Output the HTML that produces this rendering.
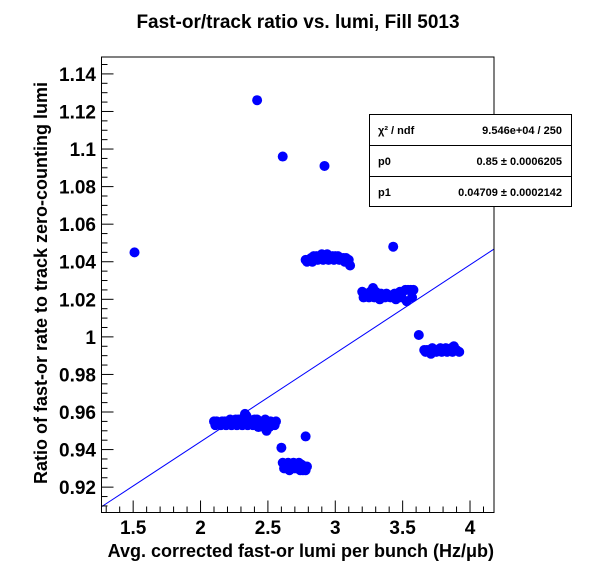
<!DOCTYPE html>
<html><head><meta charset="utf-8"><style>
body{margin:0;background:#fff}
svg{display:block;font-family:"Liberation Sans",Arial,sans-serif}
</style></head><body>
<svg id="c" width="596" height="572">
<rect width="596" height="572" fill="#fff"/>
<text x="298" y="28" text-anchor="middle" font-size="19" font-weight="bold">Fast-or/track ratio vs. lumi, Fill 5013</text>
<g id="plot"></g>
<g id="axes"></g>
<text x="0" y="0" transform="translate(47,283) rotate(-90)" text-anchor="middle" font-size="18" font-weight="bold">Ratio of fast-or rate to track zero-counting lumi</text>
<text x="494" y="557" text-anchor="end" font-size="18" font-weight="bold">Avg. corrected fast-or lumi per bunch (Hz/μb)</text>
<g>
<rect x="369.5" y="114.5" width="202" height="92" fill="#fff" stroke="#000"/>
<line x1="369.5" y1="145.5" x2="571.5" y2="145.5" stroke="#000"/>
<line x1="369.5" y1="176.5" x2="571.5" y2="176.5" stroke="#000"/>
<text x="378" y="134" font-size="11" font-weight="bold">χ² / ndf</text>
<text x="562" y="134" font-size="11" font-weight="bold" text-anchor="end">9.546e+04 / 250</text>
<text x="378" y="165" font-size="11" font-weight="bold">p0</text>
<text x="562" y="165" font-size="11" font-weight="bold" text-anchor="end">0.85  ± 0.0006205</text>
<text x="378" y="196" font-size="11" font-weight="bold">p1</text>
<text x="562" y="196" font-size="11" font-weight="bold" text-anchor="end">0.04709  ± 0.0002142</text>
</g>
</svg>
<script>
const xTicks=[1.5,2,2.5,3,3.5,4];
const xTickLabels=["1.5","2","2.5","3","3.5","4"];
const yTicks=[0.92,0.94,0.96,0.98,1,1.02,1.04,1.06,1.08,1.1,1.12,1.14];
const yTickLabels=["0.92","0.94","0.96","0.98","1","1.02","1.04","1.06","1.08","1.1","1.12","1.14"];
const fitP0=0.85, fitP1=0.04709;
const ptX=[1.51,2.42,2.61,2.92,3.43,
2.10,2.12,2.14,2.16,2.18,2.20,2.22,2.24,2.26,2.28,2.30,2.32,2.34,2.36,2.38,2.40,2.42,2.44,2.46,2.48,2.50,2.52,2.54,2.56,
2.11,2.15,2.19,2.23,2.27,2.31,2.35,2.39,2.43,2.47,2.51,2.55,2.33,2.49,
2.60,2.78,2.61,2.63,2.65,2.67,2.69,2.71,2.73,2.75,2.77,2.79,2.62,2.64,2.66,2.68,2.70,2.72,2.74,2.76,2.78,
2.78,2.80,2.82,2.84,2.86,2.88,2.90,2.92,2.94,2.96,2.98,3.00,3.02,3.04,3.06,3.08,3.10,2.79,2.83,2.87,2.91,2.95,2.99,3.03,3.07,3.11,
3.20,3.22,3.24,3.26,3.28,3.30,3.32,3.34,3.36,3.38,3.40,3.42,3.44,3.46,3.48,3.50,3.52,3.54,3.56,3.58,3.21,3.25,3.29,3.33,3.37,3.41,3.45,3.49,3.53,3.57,
3.62,3.66,3.68,3.70,3.72,3.74,3.76,3.78,3.80,3.82,3.84,3.86,3.88,3.90,3.92,3.67,3.71,3.75,3.79,3.83,3.87];
const ptY=[1.045,1.126,1.096,1.091,1.048,
0.955,0.955,0.954,0.955,0.955,0.955,0.956,0.955,0.956,0.956,0.956,0.957,0.958,0.956,0.955,0.956,0.956,0.955,0.955,0.956,0.955,0.955,0.954,0.955,
0.953,0.953,0.953,0.953,0.953,0.953,0.953,0.953,0.952,0.952,0.952,0.953,0.959,0.950,
0.941,0.947,0.933,0.932,0.933,0.932,0.933,0.932,0.933,0.932,0.931,0.931,0.930,0.930,0.929,0.930,0.930,0.930,0.929,0.929,0.929,
1.041,1.041,1.042,1.043,1.043,1.043,1.044,1.043,1.044,1.043,1.043,1.043,1.043,1.042,1.042,1.042,1.041,1.040,1.040,1.041,1.041,1.041,1.041,1.041,1.040,1.038,
1.024,1.023,1.023,1.024,1.026,1.024,1.023,1.023,1.022,1.023,1.022,1.022,1.023,1.023,1.024,1.024,1.025,1.025,1.025,1.025,1.021,1.021,1.021,1.020,1.021,1.021,1.020,1.021,1.019,1.021,
1.001,0.993,0.993,0.993,0.994,0.993,0.993,0.994,0.993,0.994,0.993,0.994,0.995,0.993,0.992,0.992,0.991,0.992,0.992,0.992,0.992];
const X0=101.5,X1=494,Y0=57,Y1=512.5;
const xmin=1.265,xmax=4.178,ymin=0.9065,ymax=1.149;
const sx=v=>X0+(v-xmin)/(xmax-xmin)*(X1-X0);
const sy=v=>Y1-(v-ymin)/(ymax-ymin)*(Y1-Y0);
const NS="http://www.w3.org/2000/svg";
const plot=document.getElementById('plot'),axes=document.getElementById('axes');
function mk(tag,at,parent){const e=document.createElementNS(NS,tag);for(const k in at)e.setAttribute(k,at[k]);parent.appendChild(e);return e;}
for(let i=0;i<ptX.length;i++){
 const c=mk('circle',{cx:sx(ptX[i]),cy:sy(ptY[i]),r:5,fill:'#0000ff'},plot);
 
 
}
const fl=mk('line',{x1:sx(xmin),y1:sy(fitP0+fitP1*xmin),x2:sx(xmax),y2:sy(fitP0+fitP1*xmax),stroke:'#0000ff','stroke-width':1},plot);


const fr=mk('rect',{x:X0,y:Y0,width:X1-X0,height:Y1-Y0,fill:'none',stroke:'#000','stroke-width':1},axes);


for(let v=1.3;v<=4.15;v+=0.1){const p=sx(v);const major=Math.abs(v*2-Math.round(v*2))<1e-6;
 mk('line',{x1:p,y1:Y1,x2:p,y2:Y1-(major?12:6),stroke:'#000'},axes);}
for(let i=0;i<xTicks.length;i++){
 const t=mk('text',{x:sx(xTicks[i]),y:534,'text-anchor':'middle','font-size':19,'font-weight':'bold'},axes);
 t.textContent=xTickLabels[i];
 
 
}
for(let v=0.91;v<=1.145;v+=0.005){const p=sy(v);const major=Math.abs(v*50-Math.round(v*50))<1e-6;
 mk('line',{x1:X0,y1:p,x2:X0+(major?12:6),y2:p,stroke:'#000'},axes);}
for(let i=0;i<yTicks.length;i++){
 const t=mk('text',{x:96,y:sy(yTicks[i])+7,'text-anchor':'end','font-size':19,'font-weight':'bold'},axes);
 t.textContent=yTickLabels[i];
 
 
}
</script>
</body></html>
